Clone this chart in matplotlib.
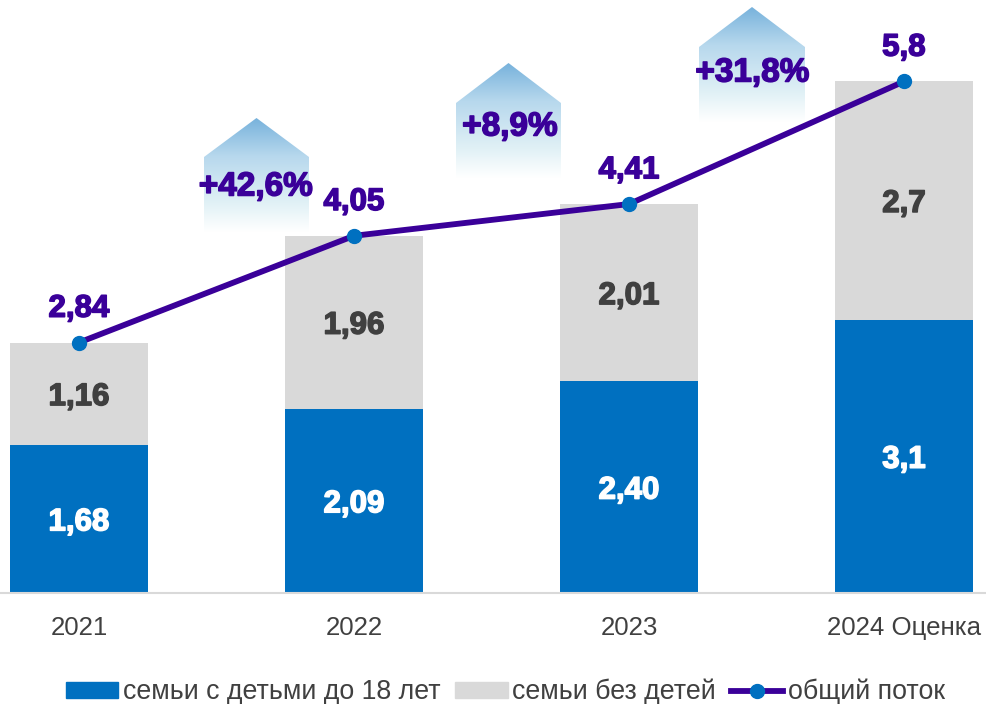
import numpy as np
import matplotlib
matplotlib.use("Agg")
import matplotlib.pyplot as plt
import matplotlib.patheffects as pe
from matplotlib.colors import LinearSegmentedColormap
from matplotlib.lines import Line2D
from matplotlib.patches import Patch, Polygon

plt.rcParams['font.family'] = ['Liberation Sans', 'DejaVu Sans']

years = ["2021", "2022", "2023", "2024 Оценка"]
with_kids = [1.68, 2.09, 2.40, 3.1]
no_kids = [1.16, 1.96, 2.01, 2.7]
total = [2.84, 4.05, 4.41, 5.8]
kids_labels = ["1,68", "2,09", "2,40", "3,1"]
no_kids_labels = ["1,16", "1,96", "2,01", "2,7"]
total_labels = ["2,84", "4,05", "4,41", "5,8"]
growth = ["+42,6%", "+8,9%", "+31,8%"]

BLUE = "#0070C0"
GREY = "#D9D9D9"
PURPLE = "#3A0099"
DARK = "#404040"

W, H = 986, 704
base_px = 593
px_per_unit = 88.2

fig = plt.figure(figsize=(W / 100, H / 100), dpi=100)
ax = fig.add_axes([0, 1 - base_px / H, 1, base_px / H])
x = np.arange(len(years))

ax.bar(x, with_kids, 0.5, color=BLUE, label="семьи с детьми до 18 лет")
ax.bar(x, no_kids, 0.5, bottom=with_kids, color=GREY, label="семьи без детей")
ax.plot(x, total, color=PURPLE, lw=4.2, marker="o", ms=10, mfc=BLUE, mec=BLUE, solid_capstyle="round")

ax.set_xlim(-79 / 275, (W - 79) / 275)
ax.set_ylim(0, base_px / px_per_unit)
ax.set_yticks([])
ax.set_xticks(x, years, fontsize=18.6, color=DARK)
ax.tick_params(axis="x", length=0, pad=16.5)
for s in ["top", "left", "right"]:
    ax.spines[s].set_visible(False)
ax.spines["bottom"].set_color(GREY)
ax.spines["bottom"].set_linewidth(1.5)


def bold(xv, yv, s, color, dy=0):
    ax.annotate(s, (xv, yv), xytext=(0, dy), textcoords="offset points", ha="center", va="center",
                fontsize=22.5, fontweight="bold", color=color,
                path_effects=[pe.withStroke(linewidth=1.1, foreground=color)], zorder=6)


for i in x:
    bold(i, with_kids[i] / 2, kids_labels[i], "white", -2.5)
    bold(i, with_kids[i] + no_kids[i] / 2, no_kids_labels[i], DARK, -2.5)
    bold(i, total[i], total_labels[i], PURPLE, 24.3)

# домики с приростом, координаты в пикселях картинки
house_cmap = LinearSegmentedColormap.from_list(
    "house", [(0, "#78B2DC"), (0.33, "#B7D8ED"), (0.75, "#E1F1F6"), (1, "#FFFFFF")])
houses = [(204, 309, 118, 157, 232), (456, 561, 63, 103, 178), (699, 805, 7, 47, 122)]
growth_pos = [(256, 187), (510, 127), (752.5, 73)]
bg = fig.add_axes([0, 0, 1, 1], zorder=-1)
bg.axis("off")
ax.patch.set_alpha(0)
for (l, r, top, sh, bot) in houses:
    im = bg.imshow(np.linspace(0, 1, 128)[:, None], cmap=house_cmap, extent=(l, r, bot, top), aspect="auto", zorder=1)
    im.set_clip_path(Polygon([(l, bot), (l, sh), ((l + r) / 2, top), (r, sh), (r, bot)], closed=True, transform=bg.transData))
bg.set_xlim(0, W)
bg.set_ylim(H, 0)

for s, (px, py) in zip(growth, growth_pos):
    fig.text(px / W, 1 - py / H, s, ha="center", va="center", fontsize=24, fontweight="bold", color=PURPLE,
             path_effects=[pe.withStroke(linewidth=1.1, foreground=PURPLE)], zorder=7)

handles = [Patch(color=BLUE), Patch(color=GREY),
           Line2D([], [], color=PURPLE, lw=4.2, marker="o", ms=10, mfc=BLUE, mec=BLUE)]
labels = ["семьи с детьми до 18 лет", "семьи без детей", "общий поток"]
fig.legend(handles, labels, loc="center", bbox_to_anchor=(505.5 / W, 1 - 692 / H), ncol=3, frameon=False,
           fontsize=19.3, labelcolor=DARK, handlelength=1.95, handleheight=0.52, handletextpad=0.18, columnspacing=0.55)

fig.savefig("out.png", dpi=100)
